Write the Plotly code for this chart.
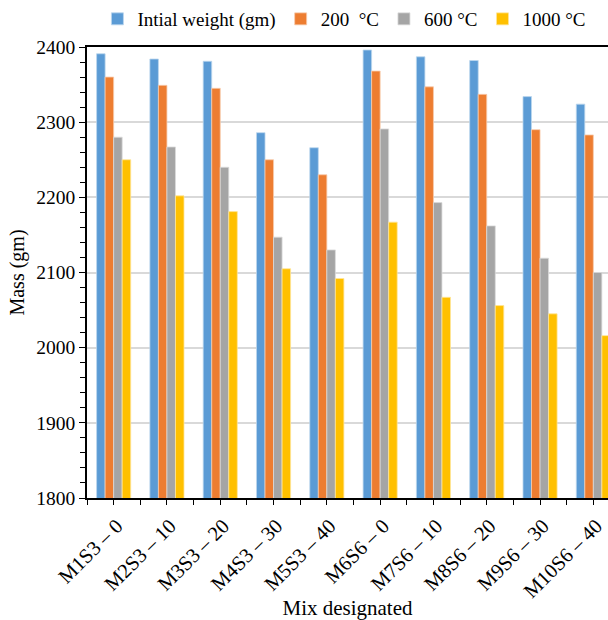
import plotly.graph_objects as go

mixes = ["M1S3 – 0", "M2S3 – 10", "M3S3 – 20", "M4S3 – 30", "M5S3 – 40",
         "M6S6 – 0", "M7S6 – 10", "M8S6 – 20", "M9S6 – 30", "M10S6 – 40"]
initial_weight = [2391, 2384, 2381, 2286, 2266, 2396, 2387, 2382, 2334, 2324]
temp_200 = [2360, 2349, 2345, 2250, 2230, 2368, 2347, 2337, 2290, 2283]
temp_600 = [2280, 2267, 2240, 2147, 2130, 2291, 2193, 2162, 2119, 2100]
temp_1000 = [2250, 2202, 2181, 2105, 2092, 2167, 2067, 2056, 2045, 2016]

series_names = ["Intial weight (gm)", "200  °C", "600 °C", "1000 °C"]
series_values = [initial_weight, temp_200, temp_600, temp_1000]
colors = ["#5B9BD5", "#ED7D31", "#A5A5A5", "#FFC000"]
edge_colors = ["#BDD7EE", "#F8CBAD", "#DBDBDB", "#FFE699"]

FONT = "Liberation Serif"
xpos = list(range(len(mixes)))

fig = go.Figure()
for name, vals, c, ec in zip(series_names, series_values, colors, edge_colors):
    fig.add_trace(go.Bar(
        x=xpos, y=vals, name=name,
        marker=dict(color=c, line=dict(color=ec, width=0.8)),
    ))

# ticks at category centers (labelled) and at boundaries (unlabelled)
tickvals = []
ticktext = []
for i, m in enumerate(mixes):
    tickvals.append(i - 0.5)
    ticktext.append("")
    tickvals.append(i)
    ticktext.append(m)
tickvals.append(len(mixes) - 0.5)
ticktext.append("")

fig.update_layout(
    width=608, height=620,
    margin=dict(l=87, r=0, t=46, b=122),
    plot_bgcolor="white", paper_bgcolor="white",
    barmode="group", bargap=0.36, bargroupgap=0,
    font=dict(family=FONT, size=19, color="black"),
    legend=dict(orientation="h", x=0.02, y=1.062, xanchor="left", yanchor="middle",
                font=dict(family=FONT, size=19), traceorder="normal",
                itemwidth=30, bgcolor="rgba(0,0,0,0)"),
    xaxis=dict(
        range=[-0.5, 9.275], automargin=False,
        tickmode="array", tickvals=tickvals, ticktext=ticktext,
        tickangle=-45, tickfont=dict(family=FONT, size=20.5),
        ticklabelstandoff=1, ticklabelshift=3,
        ticks="outside", ticklen=5, tickcolor="black", tickwidth=1,
        showline=True, linecolor="black", linewidth=2, mirror=True,
        showgrid=False, zeroline=False,
        title=dict(text="Mix designated", font=dict(family=FONT, size=21), standoff=6),
    ),
    yaxis=dict(
        range=[1800, 2400], dtick=100, tick0=1800, automargin=False,
        tickfont=dict(family=FONT, size=19.5),
        ticks="outside", ticklen=6, tickcolor="black", tickwidth=1,
        minor=dict(dtick=20, ticks="outside", ticklen=5, tickcolor="black", tickwidth=1, showgrid=False),
        showline=True, linecolor="black", linewidth=1.5,
        showgrid=True, gridcolor="#D9D9D9", gridwidth=1.5,
        zeroline=False,
        title=dict(text="Mass (gm)", font=dict(family=FONT, size=20), standoff=6),
    ),
)

fig.write_html("out.html")
